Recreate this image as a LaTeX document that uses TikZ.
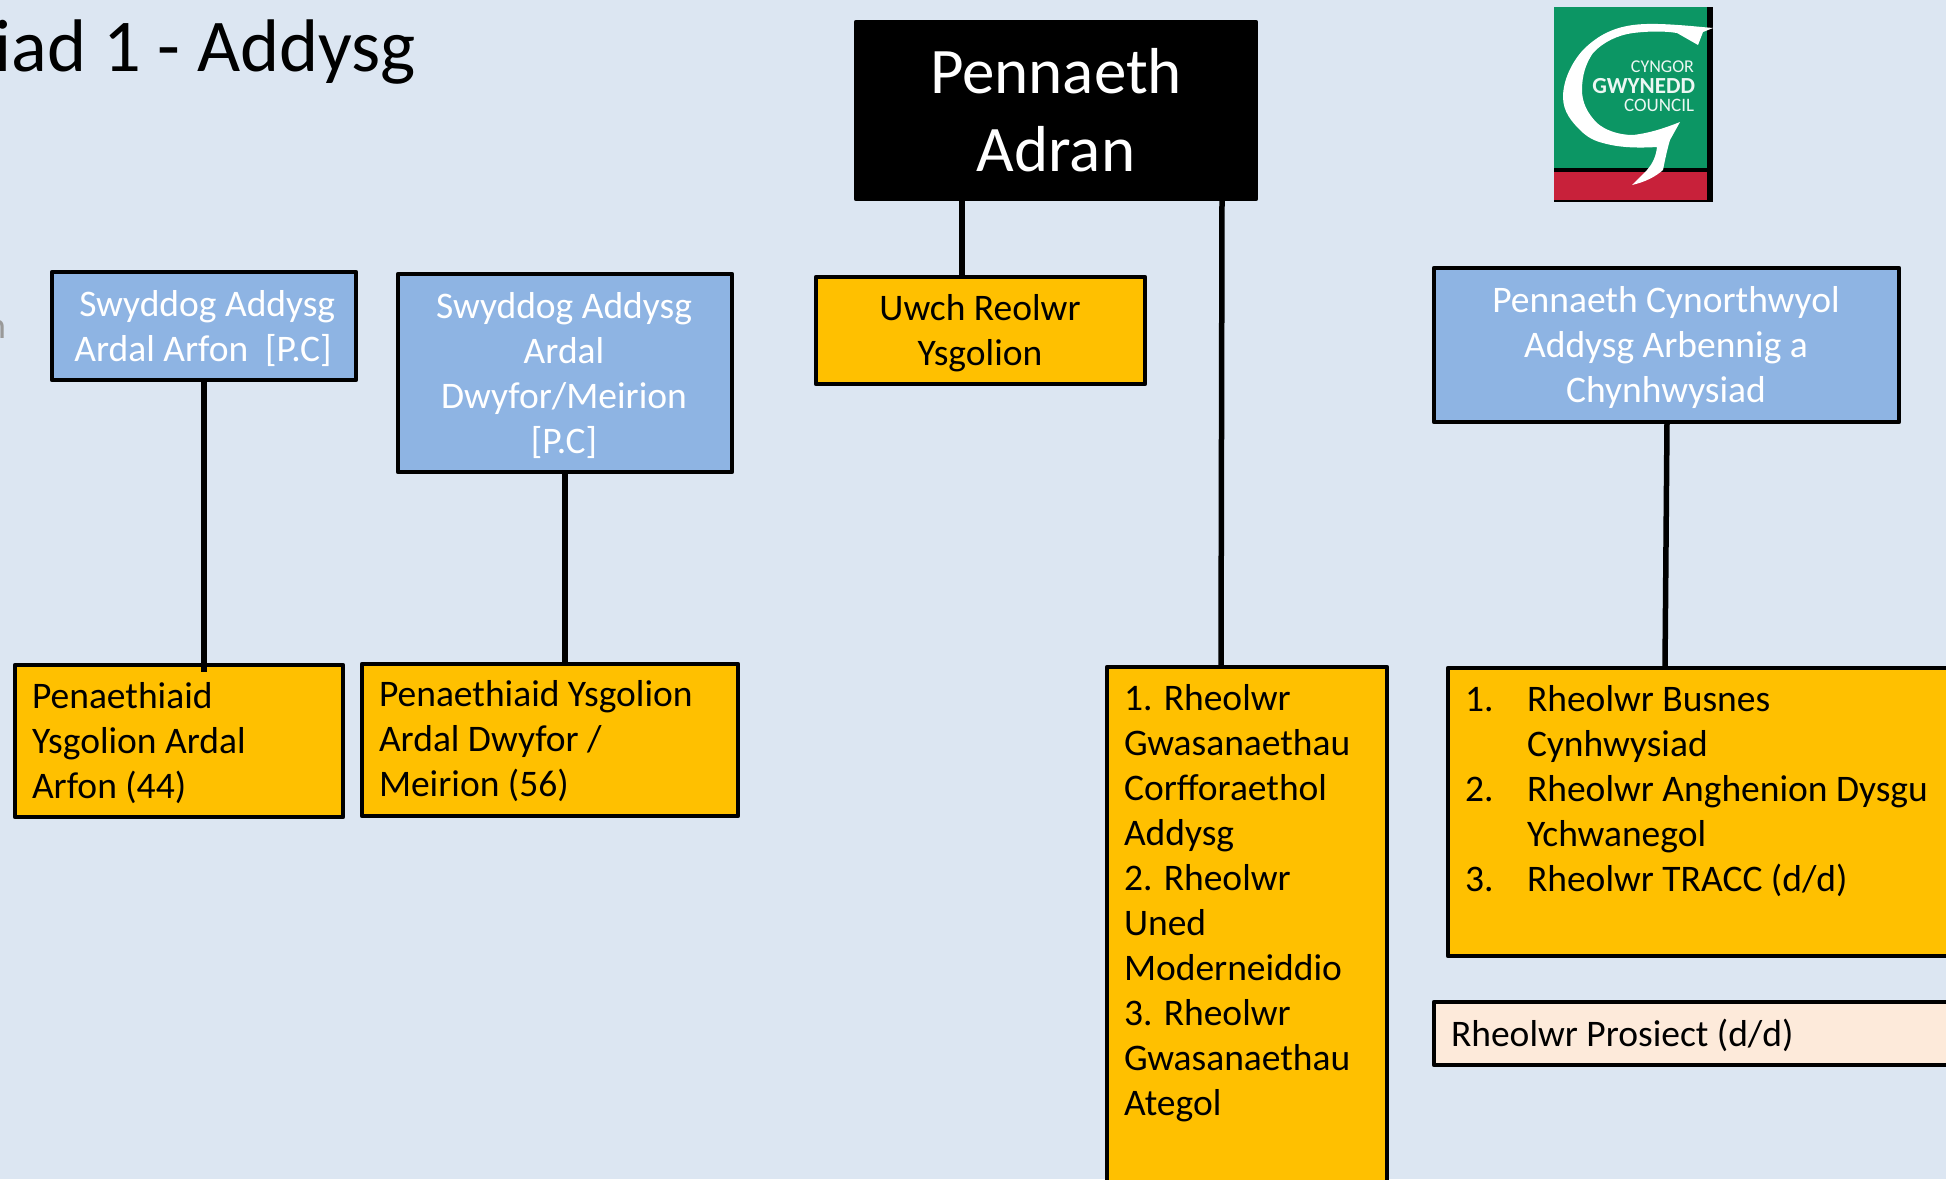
\documentclass[tikz,border=0pt]{standalone}
\usepackage{fontspec}
\setmainfont{Carlito}
\definecolor{bgc}{HTML}{DCE6F2}
\definecolor{bluec}{HTML}{8EB4E3}
\definecolor{orc}{HTML}{FFC000}
\definecolor{pch}{HTML}{FDEADA}
\definecolor{grn}{HTML}{0C9664}
\definecolor{redc}{HTML}{C8213A}
\tikzset{
 box/.style={draw=black,line width=4.4pt,line join=round,inner sep=0pt,outer sep=0pt,anchor=north west},
 bluebox/.style={box,fill=bluec,text=white},
 orbox/.style={box,fill=orc,text=black},
 conn/.style={draw=black,line width=5.5pt},
 txt/.style={inner sep=0pt,outer sep=0pt},
}
\newcommand{\bx}[6]{\node[#1,minimum width=#4pt-#2pt,minimum height=#5pt-#3pt] (#6) at (#2pt,-#3pt) {};}
\begin{document}
\begin{tikzpicture}[x=1pt,y=-1pt,font=\fontsize{37.5}{45}\selectfont]
\useasboundingbox (0,0) rectangle (1946,1179);
\fill[bgc] (0,0) rectangle (1946,1179);
\clip (0,0) rectangle (1946,1179);
% title
\node[txt,anchor=base east,font=\fontsize{74.5}{80}\selectfont] (title) at (416,71) {iad 1 - Addysg};
\node[txt,anchor=base east,text=black!40,font=\fontsize{37.5}{45}\selectfont] (frag) at (6,338) {n};
% boxes
\bx{box,fill=black}{856}{22}{1256}{199}{head}
\bx{bluebox}{52}{272}{356}{380}{sa}
\bx{bluebox}{398}{274}{732}{472}{sb}
\bx{orbox}{816}{277}{1145}{384}{uwch}
\bx{bluebox}{1434}{268}{1899}{422}{pc}
\bx{orbox}{15}{665}{343}{817}{pa}
\bx{orbox}{362}{664}{738}{816}{pb}
\bx{orbox}{1107}{667}{1387}{1200}{rh}
\bx{orbox}{1448}{668}{1980}{956}{rb}
\bx{box,fill=pch}{1434}{1002}{1980}{1065}{rp}
% connectors
\coordinate (hA) at (962,199);
\coordinate (hB) at (1222,199);
\draw[conn] (hA) -- (hA |- uwch.north);
\draw[conn] (hB) -- (1221,665);
\draw[conn] (sa.south -| 204,0) -- (204,672);
\draw[conn] (sb.south -| 565,0) -- (565,664);
\draw[conn] (1667,422) -- (1665,667);
% texts
\node[txt,white,align=center,font=\fontsize{65}{78}\selectfont] (t1) at (1056,110) {Pennaeth\\Adran};
\node[txt,white,align=center] (t2) at (203,329) {\ Swyddog Addysg\\Ardal Arfon\ \ [P.C]};
\node[txt,white,align=center] (t3) at (564,376) {Swyddog Addysg\\Ardal\\Dwyfor/Meirion\\{}[P.C]};
\node[txt,align=center] (t4) at (980,333) {Uwch Reolwr\\Ysgolion};
\node[txt,white,align=center] (t5) at (1666,347) {Pennaeth Cynorthwyol\\Addysg Arbennig a\\Chynhwysiad};
\node[txt,anchor=north west,align=left] (t6) at (32,682) {Penaethiaid\\Ysgolion Ardal\\Arfon (44)};
\node[txt,anchor=north west,align=left] (t7) at (379,680) {Penaethiaid Ysgolion\\Ardal Dwyfor /\\Meirion (56)};
\node[txt,anchor=north west,align=left] (t8) at (1124,684) {1. Rheolwr\\Gwasanaethau\\Corfforaethol\\Addysg\\2. Rheolwr\\Uned\\Moderneiddio\\3. Rheolwr\\Gwasanaethau\\Ategol};
\node[txt,anchor=north west,align=left] (t9) at (1465,687) {1.\\[45pt]2.\\[45pt]3.};
\node[txt,anchor=north west,align=left] (t10) at (1527,685) {Rheolwr Busnes\\Cynhwysiad\\Rheolwr Anghenion Dysgu\\Ychwanegol\\Rheolwr TRACC (d/d)};
\node[txt,anchor=west] (t11) at (1451,1035) {Rheolwr Prosiect (d/d)};
% logo
\fill[black] (1554,7) rectangle (1713,202);
\fill[grn] (1554,7) rectangle (1707,168);
\fill[redc] (1554,172) rectangle (1707,200);
\fill[white] (1713,28)
 .. controls (1690,26) and (1655,22) .. (1633,25)
 .. controls (1610,28) and (1595,38) .. (1583,50)
 .. controls (1572,62) and (1563,80) .. (1563,97)
 .. controls (1563,112) and (1572,122) .. (1580,130)
 .. controls (1588,138) and (1595,141) .. (1603,143)
 .. controls (1620,148) and (1640,148) .. (1657,147)
 .. controls (1656,156) and (1653,163) .. (1647,170)
 -- (1632,185)
 .. controls (1645,182) and (1655,177) .. (1663,170)
 .. controls (1665,160) and (1667,150) .. (1670,140)
 -- (1680,122)
 .. controls (1665,128) and (1650,133) .. (1633,135)
 .. controls (1618,135) and (1605,130) .. (1597,123)
 .. controls (1587,113) and (1582,102) .. (1582,90)
 .. controls (1582,75) and (1586,63) .. (1593,53)
 .. controls (1603,42) and (1618,35) .. (1633,33)
 .. controls (1650,31) and (1665,31) .. (1677,33)
 -- (1698,45) -- (1703,32) -- cycle;
\node[txt,white!92!grn,anchor=east,font=\fontsize{18}{18}\selectfont] (l1) at (1694,67) {CYNGOR};
\node[txt,white!92!grn,anchor=east,font=\bfseries\fontsize{23}{23}\selectfont] (l2) at (1695,86) {GWYNEDD};
\node[txt,white!92!grn,anchor=east,font=\fontsize{19}{19}\selectfont] (l3) at (1694,105) {COUNCIL};
\end{tikzpicture}
\end{document}
